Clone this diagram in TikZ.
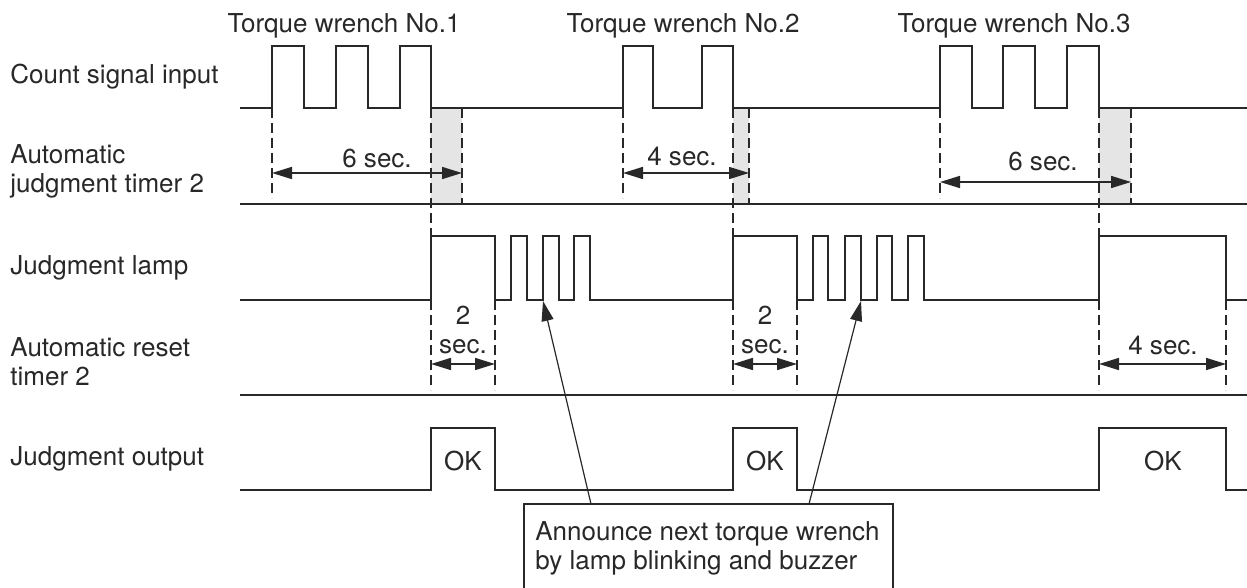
\documentclass[tikz,border=0pt]{standalone}
\usepackage{fontspec}
\setmainfont{TeX Gyre Heros}
\usetikzlibrary{positioning, arrows.meta, calc}
\definecolor{inkgray}{RGB}{40, 40, 40}
\definecolor{shadegray}{RGB}{228, 229, 228}

\begin{document}
\begin{tikzpicture}[x=0.5pt, y=-0.5pt,
    every node/.style={font=\fontsize{13}{14.5}\selectfont, text=inkgray, inner sep=0pt},
    sig/.style={line width=0.8pt, draw=inkgray},
    guide/.style={line width=0.6pt, draw=inkgray, dash pattern=on 5pt off 2.5pt},
    span/.style={line width=0.8pt, draw=inkgray, {Triangle[length=10pt,width=6pt]}-{Triangle[length=10pt,width=6pt]}},
    ptr/.style={line width=0.6pt, draw=inkgray, -{Triangle[length=10pt,width=6pt]}},
    rowlabel/.style={anchor=west, align=left}]
    \useasboundingbox (0,0) rectangle (1247,588);
    % Row labels
    \node[rowlabel] (lcount) at (10,77) {Count signal input};
    \node[rowlabel] (ljudge) at (10,171) {Automatic\\judgment timer 2};
    \node[rowlabel] (llamp) at (10,268) {Judgment lamp};
    \node[rowlabel] (lreset) at (10,362) {Automatic reset\\timer 2};
    \node[rowlabel] (lout) at (10,459) {Judgment output};
    % Torque wrench titles
    \node (tw1) at (344,26) {Torque wrench No.1};
    \node (tw2) at (683,26) {Torque wrench No.2};
    \node (tw3) at (1014,26) {Torque wrench No.3};
    % Shaded extra time
    \foreach \a/\b in {431/462, 733/749, 1099/1131}{
      \fill[shadegray] (\a,108) rectangle (\b,204);
    }
    % Count signal input
    \draw[sig] (240,108) foreach \a/\b in {272/304, 336/368, 400/431, 623/653, 702/733, 940/972, 1003/1035, 1067/1099}{
      -- (\a,108) |- (\b,46) -- (\b,108)} -- (1247,108);
    % Automatic judgment timer 2
    \draw[sig] (240,204) -- (1247,204);
    \foreach \x/\e in {272/198, 462/204, 623/198, 749/204, 940/198, 1131/204}{
      \draw[guide] (\x,108) -- (\x,\e);
    }
    \foreach \x in {431, 733, 1099}{
      \draw[guide] (\x,108) -- (\x,236);
    }
    \draw[span] (272,173) -- (462,173);
    \node (d1) at (377,158) {6 sec.};
    \draw[span] (623,173) -- (749,173);
    \node (d2) at (682,156) {4 sec.};
    \draw[span] (940,182) -- (1131,182);
    \node (d3) at (1043,161) {6 sec.};
    % Judgment lamp
    \draw[sig] (240,300) foreach \a/\b in {431/495, 511/527, 543/559, 574/590, 733/797, 813/828, 845/861, 877/892, 908/924, 1099/1226}{
      -- (\a,300) |- (\b,236) -- (\b,300)} -- (1247,300);
    % Automatic reset timer 2
    \draw[sig] (240,395) -- (1247,395);
    \foreach \x in {431, 495, 733, 797, 1099, 1226}{
      \draw[guide] (\x,300) -- (\x,390);
    }
    \draw[span] (431,364) -- (495,364);
    \node[align=center] (r1) at (463,330) {2\\sec.};
    \draw[span] (733,364) -- (797,364);
    \node[align=center] (r2) at (765,330) {2\\sec.};
    \draw[span] (1099,364) -- (1226,364);
    \node (r3) at (1163,345) {4 sec.};
    % Judgment output
    \draw[sig] (240,490) foreach \a/\b in {431/495, 733/797, 1099/1226}{
      -- (\a,490) |- (\b,428) -- (\b,490)} -- (1247,490);
    \node (ok1) at (463,461) {OK};
    \node (ok2) at (765,461) {OK};
    \node (ok3) at (1163,461) {OK};
    % Callout (box runs off the bottom edge)
    \node[anchor=west, align=left] (note) at (535,548)
      {Announce next torque wrench\\by lamp blinking and buzzer};
    \draw[line width=0.6pt, draw=inkgray] (524,592) |- (893,504) -- (893,592);
    \coordinate (n1) at (591,504);
    \coordinate (n2) at (809,504);
    \coordinate (t1) at (543,301);
    \coordinate (t2) at (861,301);
    \draw[ptr] (n1) -- (t1);
    \draw[ptr] (n2) -- (t2);
\end{tikzpicture}
\end{document}
